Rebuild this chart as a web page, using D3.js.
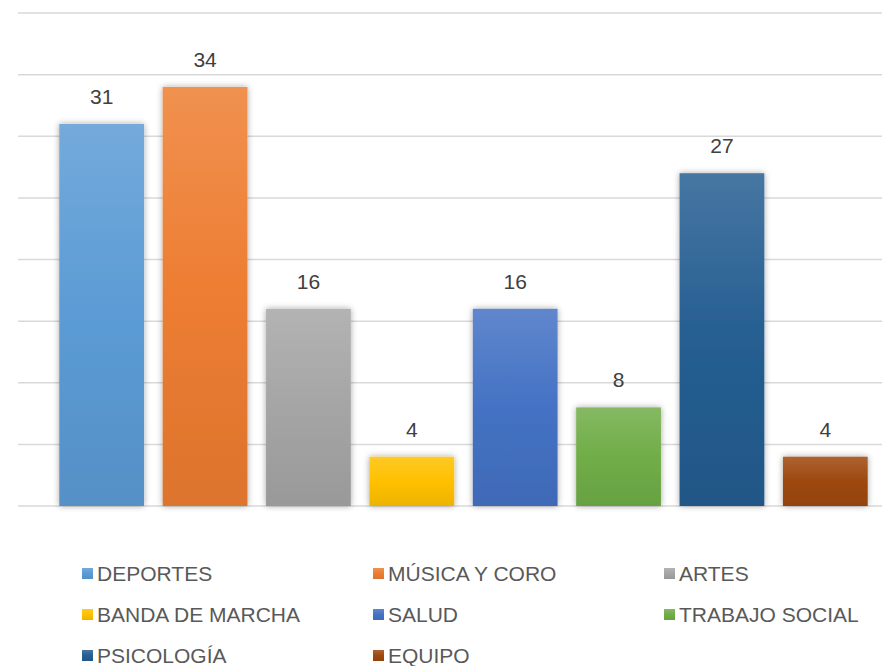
<!DOCTYPE html>
<html>
<head>
<meta charset="utf-8">
<script src="https://cdn.jsdelivr.net/npm/d3@7"></script>
<style>
  body { margin: 0; background: #fff; }
</style>
</head>
<body>
<div id="chart"></div>
<script>
"use strict";

const categories = ["DEPORTES", "MÚSICA Y CORO", "ARTES", "BANDA DE MARCHA", "SALUD", "TRABAJO SOCIAL", "PSICOLOGÍA", "EQUIPO"];
const values = [31, 34, 16, 4, 16, 8, 27, 4];
const colors = ["#5B9BD5", "#ED7D31", "#A5A5A5", "#FFC000", "#4472C4", "#70AD47", "#255E91", "#9E480E"];
const gridTicks = [0, 5, 10, 15, 20, 25, 30, 35, 40];

const width = 882, height = 666;

const svg = d3.select("#chart").append("svg")
  .attr("width", width)
  .attr("height", height);

const defs = svg.append("defs");

// soft shadow round the bars
const shadow = defs.append("filter")
  .attr("id", "shadow")
  .attr("x", "-20%").attr("y", "-20%")
  .attr("width", "140%").attr("height", "140%");
shadow.append("feDropShadow")
  .attr("dx", 0).attr("dy", 0)
  .attr("stdDeviation", 3)
  .attr("flood-color", "#000")
  .attr("flood-opacity", 0.35);

// one gradient per colour: lighter on top, darker at bottom
colors.forEach(function(c, i) {
  let grad = defs.append("linearGradient")
    .attr("id", "grad" + i)
    .attr("x1", 0).attr("y1", 0).attr("x2", 0).attr("y2", 1);
  grad.append("stop").attr("offset", "0%").attr("stop-color", d3.interpolateRgb(c, "#fff")(0.15));
  grad.append("stop").attr("offset", "50%").attr("stop-color", c);
  grad.append("stop").attr("offset", "100%").attr("stop-color", d3.interpolateRgb(c, "#000")(0.07));
});

const x = d3.scaleBand()
  .domain(categories)
  .range([50, 877])
  .paddingInner(0.18)
  .paddingOuter(0.09);

const y = d3.scaleLinear()
  .domain([0, 40])
  .range([506, 13]);

// gridlines
svg.append("g")
  .selectAll("line")
  .data(gridTicks)
  .join("line")
  .attr("x1", 18)
  .attr("x2", width)
  .attr("y1", d => y(d))
  .attr("y2", d => y(d))
  .attr("stroke", "#d9d9d9")
  .attr("stroke-width", 1.5);

// bars
svg.append("g")
  .selectAll("rect")
  .data(values)
  .join("rect")
  .attr("x", (d, i) => x(categories[i]))
  .attr("y", d => y(d))
  .attr("width", x.bandwidth())
  .attr("height", d => y(0) - y(d))
  .attr("fill", (d, i) => "url(#grad" + i + ")")
  .attr("filter", "url(#shadow)");

// value labels
svg.append("g")
  .selectAll("text")
  .data(values)
  .join("text")
  .attr("x", (d, i) => x(categories[i]) + x.bandwidth() / 2)
  .attr("y", d => y(d) - 20)
  .attr("text-anchor", "middle")
  .attr("font-family", "'Liberation Sans', Arial, sans-serif")
  .attr("font-size", "21px")
  .attr("fill", "#404040")
  .text(d => d);

// legend: 3 columns
const legendCols = [82, 373, 664];
const legendRows = [573.5, 614.5, 655.5];
const legend = svg.append("g")
  .selectAll("g")
  .data(categories)
  .join("g")
  .attr("transform", (d, i) => "translate(" + legendCols[i % 3] + "," + legendRows[Math.floor(i / 3)] + ")");

legend.append("rect")
  .attr("x", 0)
  .attr("y", -5.5)
  .attr("width", 11)
  .attr("height", 11)
  .attr("fill", (d, i) => "url(#grad" + i + ")");

legend.append("text")
  .attr("x", 15)
  .attr("y", 7.5)
  .attr("font-family", "'Liberation Sans', Arial, sans-serif")
  .attr("font-size", "21px")
  .attr("fill", "#595959")
  .text(d => d);
</script>
</body>
</html>
